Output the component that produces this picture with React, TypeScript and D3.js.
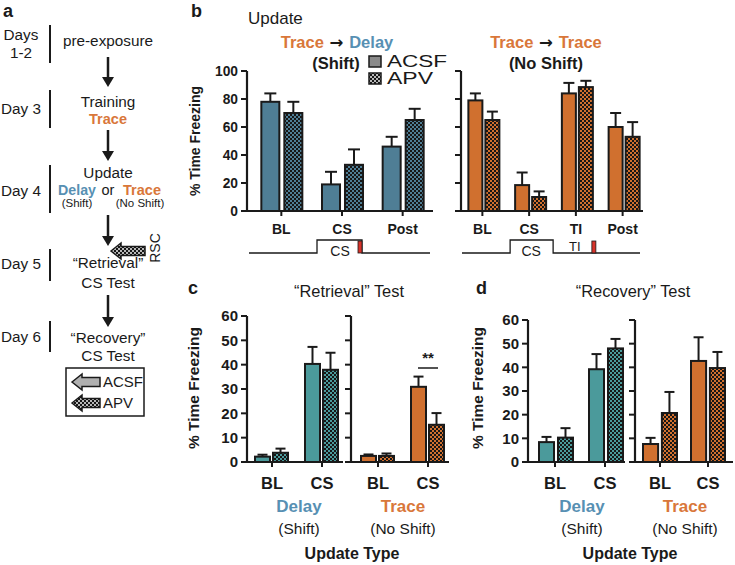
import React from 'react';
import * as d3 from 'd3';

// ---------- DATA ----------
const bLeftCats = ['BL', 'CS', 'Post'];
const bLeftACSF = [78, 19, 46];
const bLeftACSFErr = [6, 9, 7];
const bLeftAPV = [70, 33, 65];
const bLeftAPVErr = [8, 11, 8];

const bRightCats = ['BL', 'CS', 'TI', 'Post'];
const bRightACSF = [79, 18.5, 84, 60];
const bRightACSFErr = [5, 9, 7.5, 10];
const bRightAPV = [65, 10, 88.5, 53];
const bRightAPVErr = [6, 4, 4.5, 10.5];

const testCats = ['BL', 'CS'];
const cDelayACSF = [2.2, 40.3];
const cDelayACSFErr = [0.8, 7];
const cDelayAPV = [3.8, 37.9];
const cDelayAPVErr = [1.7, 7];
const cTraceACSF = [2.5, 30.9];
const cTraceACSFErr = [0.6, 4.2];
const cTraceAPV = [2.5, 15.3];
const cTraceAPVErr = [1, 4.8];

const dDelayACSF = [8.4, 39.2];
const dDelayACSFErr = [2.2, 6.4];
const dDelayAPV = [10.3, 48];
const dDelayAPVErr = [4, 4];
const dTraceACSF = [7.6, 42.7];
const dTraceACSFErr = [2.6, 10];
const dTraceAPV = [20.7, 39.7];
const dTraceAPVErr = [8.9, 6.8];

const bTicks = [0, 20, 40, 60, 80, 100];
const cdTicks = [0, 10, 20, 30, 40, 50, 60];
const groups = ['ACSF', 'APV'];

// ---------- STYLE ----------
const FONT = 'Liberation Sans, Arial, Helvetica, sans-serif';
const steel = '#4f7e95';
const teal = '#4b9a9b';
const orange = '#d0702f';
const txtBlue = '#5790b3';
const txtOrange = '#d9773a';
const ink = '#1a1a1a';

type PanelProps = {
  axisX: number;
  axisEnd: number;
  bandRange: [number, number];
  innerRange: [number, number];
  innerPad: number;
  y: d3.ScaleLinear<number, number>;
  ticks: number[];
  cats: string[];
  acsf: number[];
  acsfErr: number[];
  apv: number[];
  apvErr: number[];
  color: string;
  pattern: string;
  showTickLabels: boolean;
  labelY: number;
  capW: number;
  tickSize: number;
  catSize: number;
};

function BarPanel(p: PanelProps) {
  const x = d3.scaleBand<string>().domain(p.cats).range(p.bandRange).paddingInner(0).paddingOuter(0);
  const xi = d3.scaleBand<string>().domain(groups).range(p.innerRange).paddingInner(p.innerPad).paddingOuter(0);
  const y0 = p.y(0);
  const yTop = p.y(p.ticks[p.ticks.length - 1]);
  const center = (c: string) => (x(c) as number) + x.bandwidth() / 2;
  const series = [
    { g: 'ACSF', v: p.acsf, e: p.acsfErr, fill: p.color },
    { g: 'APV', v: p.apv, e: p.apvErr, fill: `url(#${p.pattern})` },
  ];
  return (
    <g>
      {series.map((s) =>
        p.cats.map((c, i) => {
          const bx = center(c) + (xi(s.g) as number);
          const bw = xi.bandwidth();
          const top = p.y(s.v[i]);
          const et = p.y(s.v[i] + s.e[i]);
          const mx = bx + bw / 2;
          return (
            <g key={s.g + c}>
              <line x1={mx} x2={mx} y1={top} y2={et} stroke={ink} strokeWidth={2} />
              <line x1={mx - p.capW / 2} x2={mx + p.capW / 2} y1={et} y2={et} stroke={ink} strokeWidth={2} />
              <rect x={bx} y={top} width={bw} height={y0 - top} fill={s.fill} stroke={ink} strokeWidth={2} />
            </g>
          );
        })
      )}
      <line x1={p.axisX} x2={p.axisX} y1={y0 + 1} y2={yTop} stroke={ink} strokeWidth={2.2} />
      {p.ticks.map((t) => (
        <g key={t}>
          <line x1={p.axisX - 6} x2={p.axisX} y1={p.y(t)} y2={p.y(t)} stroke={ink} strokeWidth={2} />
          {p.showTickLabels && (
            <text x={p.axisX - 9} y={p.y(t) + p.tickSize * 0.36} textAnchor="end" fontSize={p.tickSize} fontWeight="bold" fill={ink}>
              {t}
            </text>
          )}
        </g>
      ))}
      <line x1={p.axisX - 1} x2={p.axisEnd} y1={y0} y2={y0} stroke={ink} strokeWidth={2.2} />
      {p.cats.map((c) => (
        <g key={'t' + c}>
          <line x1={center(c)} x2={center(c)} y1={y0} y2={y0 + 5} stroke={ink} strokeWidth={2} />
          <text x={center(c)} y={p.labelY} textAnchor="middle" fontSize={p.catSize} fontWeight="bold" fill={ink}>
            {c}
          </text>
        </g>
      ))}
    </g>
  );
}

function DownArrow({ x, y1, y2 }: { x: number; y1: number; y2: number }) {
  return (
    <g>
      <line x1={x} x2={x} y1={y1} y2={y2 - 8} stroke={ink} strokeWidth={2.5} />
      <path d={`M${x - 6},${y2 - 10} L${x + 6},${y2 - 10} L${x},${y2} Z`} fill={ink} />
    </g>
  );
}

function BlockArrow({ tip, cy, len, fill }: { tip: number; cy: number; len: number; fill: string }) {
  const hl = 10;
  const d = `M${tip},${cy} L${tip + hl},${cy - 8} L${tip + hl},${cy - 4.5} L${tip + len},${cy - 4.5} L${tip + len},${cy + 4.5} L${tip + hl},${cy + 4.5} L${tip + hl},${cy + 8} Z`;
  return <path d={d} fill={fill} stroke={ink} strokeWidth={1.5} />;
}

function Arrow() {
  return <tspan fill={ink} fontFamily="DejaVu Sans" fontWeight="bold"> → </tspan>;
}

export default function App() {
  const yB = d3.scaleLinear().domain([0, 100]).range([211, 71]);
  const yC = d3.scaleLinear().domain([0, 60]).range([462, 316]);
  const yD = d3.scaleLinear().domain([0, 60]).range([462, 320]);

  const xBL = d3.scaleBand<string>().domain(bLeftCats).range([251, 433]);
  const xBR = d3.scaleBand<string>().domain(bRightCats).range([459, 646]);
  const cCS = (xBL('CS') as number) + xBL.bandwidth() / 2;
  const rCS = (xBR('CS') as number) + xBR.bandwidth() / 2;
  const rTI = (xBR('TI') as number) + xBR.bandwidth() / 2;

  const yTitle = (cx: number, cy: number, size: number) => (
    <text transform={`translate(${cx},${cy}) rotate(-90)`} textAnchor="middle" fontSize={size} fontWeight="bold" fill={ink}>
      % Time Freezing
    </text>
  );

  const stageLine = (x: number, y1: number, y2: number) => (
    <line x1={x} x2={x} y1={y1} y2={y2} stroke={ink} strokeWidth={2} />
  );

  return (
    <svg width={735} height={565} style={{ position: 'absolute', left: 0, top: 0, background: '#fff' }} fontFamily={FONT}>
      <defs>
        {[
          ['patSteel', steel],
          ['patTeal', teal],
          ['patOrange', orange],
          ['patGray', '#b8b8b8'],
        ].map(([id, c]) => (
          <pattern key={id} id={id} width={4} height={4} patternUnits="userSpaceOnUse">
            <rect width={4} height={4} fill={c} />
            <rect x={0} y={0} width={2} height={2} fill="#161616" />
            <rect x={2} y={2} width={2} height={2} fill="#161616" />
          </pattern>
        ))}
      </defs>
      <rect width={735} height={565} fill="#fff" />

      {/* ---------- Panel a ---------- */}
      <text x={3} y={17} fontSize={18} fontWeight="bold" fill={ink}>a</text>
      <g fontSize={15.3} fill={ink} textAnchor="middle">
        <text x={21} y={40}>Days</text>
        <text x={21} y={58}>1-2</text>
        {stageLine(50, 25, 63)}
        <text x={108} y={46}>pre-exposure</text>
        <DownArrow x={108} y1={57} y2={87} />

        <text x={21} y={114}>Day 3</text>
        {stageLine(50, 90, 128)}
        <text x={108} y={107}>Training</text>
        <text x={108} y={124} fill={txtOrange} fontWeight="bold" fontSize={14.5}>Trace</text>
        <DownArrow x={108} y1={130} y2={161} />

        <text x={21} y={196}>Day 4</text>
        {stageLine(50, 165, 213)}
        <text x={108} y={178}>Update</text>
        <text x={77} y={195} fill={txtBlue} fontWeight="bold" fontSize={14.2}>Delay</text>
        <text x={108} y={195} fontSize={14.5}>or</text>
        <text x={142} y={195} fill={txtOrange} fontWeight="bold" fontSize={14.5}>Trace</text>
        <text x={77} y={207} fontSize={11.5}>(Shift)</text>
        <text x={140} y={207} fontSize={11.5}>(No Shift)</text>
        <DownArrow x={108} y1={215} y2={246} />
        <BlockArrow tip={111} cy={251} len={34} fill="url(#patGray)" />
        <text transform="translate(160,248) rotate(-90)" fontSize={14}>RSC</text>

        <text x={21} y={269}>Day 5</text>
        {stageLine(50, 249, 281)}
        <text x={108} y={268}>“Retrieval”</text>
        <text x={108} y={288}>CS Test</text>
        <DownArrow x={108} y1={295} y2={327} />

        <text x={21} y={342}>Day 6</text>
        {stageLine(50, 321, 352)}
        <text x={108} y={343}>“Recovery”</text>
        <text x={108} y={361}>CS Test</text>

        <rect x={66} y={368} width={78} height={48} fill="none" stroke={ink} strokeWidth={1.5} />
        <BlockArrow tip={72} cy={382} len={28} fill="#b0b0b0" />
        <BlockArrow tip={72} cy={403} len={28} fill="url(#patGray)" />
        <text x={103} y={387} textAnchor="start" fontSize={15}>ACSF</text>
        <text x={103} y={408} textAnchor="start" fontSize={15}>APV</text>
      </g>

      {/* ---------- Panel b ---------- */}
      <text x={191} y={17} fontSize={18} fontWeight="bold" fill={ink}>b</text>
      <text x={248} y={24} fontSize={17} fill={ink}>Update</text>
      <text x={337} y={48} textAnchor="middle" fontSize={16.5} fontWeight="bold">
        <tspan fill={txtOrange}>Trace</tspan>
        <Arrow />
        <tspan fill={txtBlue}>Delay</tspan>
      </text>
      <text x={336} y={69} textAnchor="middle" fontSize={16.5} fontWeight="bold" fill={ink}>(Shift)</text>
      <rect x={369} y={56} width={12} height={11} fill="#8a8a8a" stroke={ink} strokeWidth={1.5} />
      <rect x={369} y={73} width={12} height={11} fill="url(#patGray)" stroke={ink} strokeWidth={1.5} />
      <text x={387} y={67} fontSize={16} fill={ink} textLength={60} lengthAdjust="spacingAndGlyphs">ACSF</text>
      <text x={387} y={84} fontSize={16} fill={ink} textLength={46} lengthAdjust="spacingAndGlyphs">APV</text>

      <text x={546} y={48} textAnchor="middle" fontSize={16.5} fontWeight="bold">
        <tspan fill={txtOrange}>Trace</tspan>
        <Arrow />
        <tspan fill={txtOrange}>Trace</tspan>
      </text>
      <text x={546} y={69} textAnchor="middle" fontSize={16.5} fontWeight="bold" fill={ink}>(No Shift)</text>

      {yTitle(200, 141, 14)}
      <BarPanel axisX={247} axisEnd={433} bandRange={[251, 433]} innerRange={[-20, 21]} innerPad={0.217}
        y={yB} ticks={bTicks} cats={bLeftCats} acsf={bLeftACSF} acsfErr={bLeftACSFErr} apv={bLeftAPV} apvErr={bLeftAPVErr}
        color={steel} pattern="patSteel" showTickLabels={true} labelY={234} capW={12} tickSize={13.8} catSize={14} />
      <BarPanel axisX={461} axisEnd={643} bandRange={[459, 646]} innerRange={[-14, 17]} innerPad={0.176}
        y={yB} ticks={bTicks} cats={bRightCats} acsf={bRightACSF} acsfErr={bRightACSFErr} apv={bRightAPV} apvErr={bRightAPVErr}
        color={orange} pattern="patOrange" showTickLabels={false} labelY={234} capW={11} tickSize={13.8} catSize={14} />

      {/* timelines */}
      <path d={`M249,253 L${cCS - 25},253 L${cCS - 25},240 L${cCS + 20},240 L${cCS + 20},253 L430,253`} fill="none" stroke={ink} strokeWidth={1.3} />
      <rect x={cCS + 16} y={241} width={4} height={12} fill="#d8332a" stroke={ink} strokeWidth={0.8} />
      <text x={cCS - 2} y={256} textAnchor="middle" fontSize={14} fill={ink}>CS</text>
      <path d={`M462,253 L${rCS - 19},253 L${rCS - 19},240 L${rCS + 24},240 L${rCS + 24},253 L640,253`} fill="none" stroke={ink} strokeWidth={1.3} />
      <rect x={rTI + 16} y={241} width={4} height={12} fill="#d8332a" stroke={ink} strokeWidth={0.8} />
      <text x={rCS + 2} y={256} textAnchor="middle" fontSize={14} fill={ink}>CS</text>
      <text x={rTI - 1} y={251} textAnchor="middle" fontSize={13} fill={ink}>TI</text>

      {/* ---------- Panel c ---------- */}
      <text x={188} y={294} fontSize={18} fontWeight="bold" fill={ink}>c</text>
      <text x={349} y={297} textAnchor="middle" fontSize={16.4} fill={ink}>“Retrieval” Test</text>
      {yTitle(199, 388, 15.5)}
      <BarPanel axisX={247} axisEnd={343} bandRange={[247, 347]} innerRange={[-17, 16]} innerPad={0.167}
        y={yC} ticks={cdTicks} cats={testCats} acsf={cDelayACSF} acsfErr={cDelayACSFErr} apv={cDelayAPV} apvErr={cDelayAPVErr}
        color={teal} pattern="patTeal" showTickLabels={true} labelY={489} capW={10} tickSize={15} catSize={16.5} />
      <BarPanel axisX={351} axisEnd={449} bandRange={[353, 453]} innerRange={[-17, 16]} innerPad={0.167}
        y={yC} ticks={cdTicks} cats={testCats} acsf={cTraceACSF} acsfErr={cTraceACSFErr} apv={cTraceAPV} apvErr={cTraceAPVErr}
        color={orange} pattern="patOrange" showTickLabels={false} labelY={489} capW={10} tickSize={15} catSize={16.5} />
      <text x={428} y={363} textAnchor="middle" fontSize={15} fontWeight="bold" fill={ink}>**</text>
      <line x1={418} x2={438} y1={368} y2={368} stroke={ink} strokeWidth={1.5} />
      <text x={299} y={512} textAnchor="middle" fontSize={17} fontWeight="bold" fill={txtBlue}>Delay</text>
      <text x={403} y={512} textAnchor="middle" fontSize={17} fontWeight="bold" fill={txtOrange}>Trace</text>
      <text x={299} y={534} textAnchor="middle" fontSize={15.5} fill={ink}>(Shift)</text>
      <text x={403} y={534} textAnchor="middle" fontSize={15.5} fill={ink}>(No Shift)</text>
      <text x={352} y={559} textAnchor="middle" fontSize={16} fontWeight="bold" fill={ink}>Update Type</text>

      {/* ---------- Panel d ---------- */}
      <text x={476} y={294} fontSize={18} fontWeight="bold" fill={ink}>d</text>
      <text x={633} y={297} textAnchor="middle" fontSize={16.4} fill={ink}>“Recovery” Test</text>
      {yTitle(483, 388, 15.5)}
      <BarPanel axisX={528} axisEnd={625} bandRange={[530, 630]} innerRange={[-16, 18]} innerPad={0.21}
        y={yD} ticks={cdTicks} cats={testCats} acsf={dDelayACSF} acsfErr={dDelayACSFErr} apv={dDelayAPV} apvErr={dDelayAPVErr}
        color={teal} pattern="patTeal" showTickLabels={true} labelY={489} capW={10} tickSize={15} catSize={16.5} />
      <BarPanel axisX={635} axisEnd={733} bandRange={[636, 732]} innerRange={[-17, 17]} innerPad={0.2}
        y={yD} ticks={cdTicks} cats={testCats} acsf={dTraceACSF} acsfErr={dTraceACSFErr} apv={dTraceAPV} apvErr={dTraceAPVErr}
        color={orange} pattern="patOrange" showTickLabels={false} labelY={489} capW={10} tickSize={15} catSize={16.5} />
      <text x={582} y={512} textAnchor="middle" fontSize={17} fontWeight="bold" fill={txtBlue}>Delay</text>
      <text x={685} y={512} textAnchor="middle" fontSize={17} fontWeight="bold" fill={txtOrange}>Trace</text>
      <text x={582} y={534} textAnchor="middle" fontSize={15.5} fill={ink}>(Shift)</text>
      <text x={685} y={534} textAnchor="middle" fontSize={15.5} fill={ink}>(No Shift)</text>
      <text x={630} y={559} textAnchor="middle" fontSize={16} fontWeight="bold" fill={ink}>Update Type</text>
    </svg>
  );
}
